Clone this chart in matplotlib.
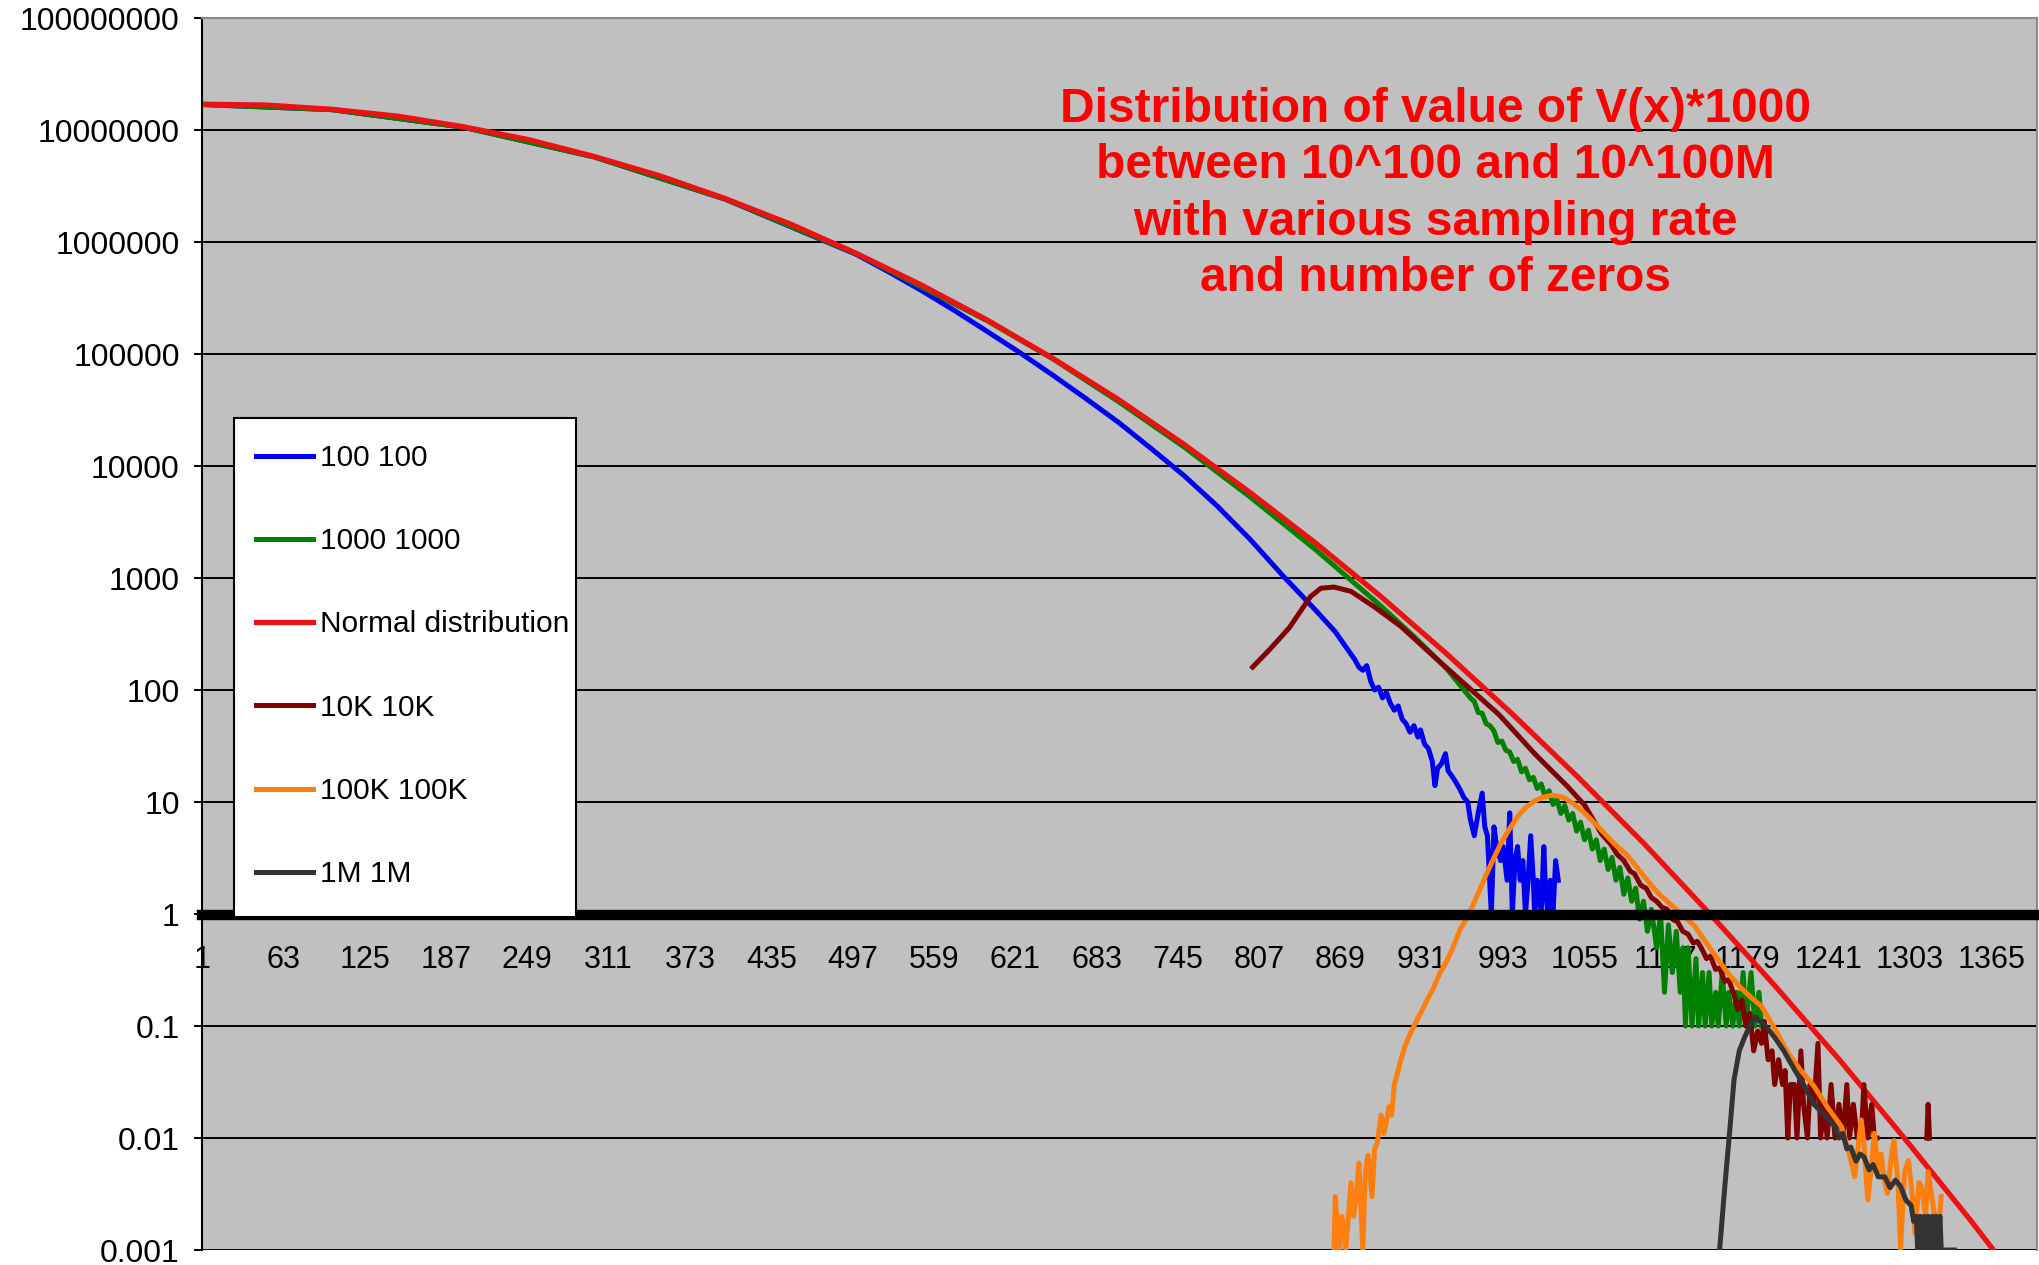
import numpy as np
import matplotlib
matplotlib.use('Agg')
import matplotlib.pyplot as plt
from matplotlib.patches import Rectangle
from matplotlib.ticker import NullLocator

plt.rcParams['font.family'] = ['Liberation Sans', 'DejaVu Sans']

# --- данные (категория, значение) ---
n_cat = 1400
x_ticks = list(range(1, 1366, 62))
y_ticks = [1e-3, 1e-2, 1e-1, 1, 10, 100, 1e3, 1e4, 1e5, 1e6, 1e7, 1e8]
y_tick_labels = ['0.001', '0.01', '0.1', '1', '10', '100', '1000', '10000',
                 '100000', '1000000', '10000000', '100000000']

normal_x = [1, 50, 100, 150, 200, 250, 300, 350, 400, 450, 500, 550, 600, 650,
            700, 750, 800, 850, 900, 950, 1000, 1050, 1100, 1150, 1200, 1250,
            1300, 1350, 1380]
normal_y = [1.70e7, 1.67e7, 1.53e7, 1.33e7, 1.07e7, 8.2e6, 5.8e6, 3.9e6, 2.44e6,
            1.44e6, 7.9e5, 4.1e5, 2.0e5, 9.1e4, 3.9e4, 1.55e4, 5.8e3, 2.05e3,
            680, 210, 61, 16.7, 4.3, 1.02, 0.23, 0.049, 0.0096, 0.0018, 0.00063]

s100_x = [1, 100, 200, 300, 400, 500, 525, 550, 575, 600, 625, 650, 675, 700,
          725, 750, 775, 800, 825, 850, 865, 880, 883, 886, 889, 892, 895, 898,
          901, 904, 907, 910, 913, 916, 919, 922, 925, 928, 930, 933, 936, 939,
          941, 943, 946, 949, 951, 954, 957, 960, 963, 966, 968, 971, 974, 977,
          979, 981, 984, 986, 988, 991, 993, 996, 998, 1000, 1002, 1004, 1006,
          1008, 1010, 1012, 1014, 1016, 1017, 1019, 1022, 1024, 1025, 1027,
          1029, 1031, 1033, 1035]
s100_y = [1.69e7, 1.52e7, 1.06e7, 5.75e6, 2.41e6, 7.74e5, 5.37e5, 3.66e5,
          2.43e5, 1.58e5, 1.02e5, 6.43e4, 3.99e4, 2.44e4, 1.42e4, 8.15e3,
          4.39e3, 2.22e3, 1.05e3, 516, 331, 186, 160, 150, 165, 120, 100, 106,
          85, 95, 76, 66, 72, 55, 50, 42, 48, 38, 44, 33, 30, 23, 14, 20, 22,
          27, 19, 17, 15, 13, 11, 10, 7, 5, 8, 12, 6, 5, 1, 6, 4, 3, 4, 2, 8,
          1, 3, 4, 2, 3, 1, 2, 5, 2, 1, 2, 1, 4, 2, 1, 2, 1, 3, 2]

s1000_x = [1, 100, 200, 300, 400, 500, 600, 650, 700, 750, 800, 850, 877, 900,
           925, 950, 968, 971, 974, 977, 980, 983, 986, 989, 992, 995, 998,
           1001, 1004, 1007, 1010, 1013, 1016, 1019, 1022, 1025, 1028, 1031,
           1034, 1037, 1040, 1043, 1046, 1049, 1052, 1055, 1058, 1061, 1064,
           1067, 1070, 1073, 1076, 1079, 1082, 1085, 1088, 1091, 1094, 1097,
           1100, 1103, 1106, 1110, 1113, 1116, 1119, 1122, 1125, 1128, 1130,
           1132, 1134, 1137, 1140, 1142, 1145, 1147, 1150, 1152, 1155, 1157,
           1160, 1163, 1165, 1168, 1171, 1173, 1176, 1178, 1182, 1185, 1188,
           1190]
s1000_y = [1.69e7, 1.52e7, 1.06e7, 5.75e6, 2.42e6, 7.85e5, 1.97e5, 9.0e4,
           3.74e4, 1.47e4, 5.3e3, 1.79e3, 955, 560, 300, 155, 85, 79, 63, 62,
           50, 48, 43, 34, 35, 29, 28, 23, 24, 18.6, 20, 15.8, 16.6, 13.2, 14.5,
           11.2, 12.6, 9.5, 10.5, 7.9, 9.3, 6.9, 7.9, 5.5, 6.6, 4.6, 5.6, 3.8,
           4.6, 3.0, 3.8, 2.5, 3.2, 2.0, 2.6, 1.5, 2.1, 1.3, 1.7, 0.9, 1.3, 0.7,
           1.1, 0.5, 1.0, 0.2, 0.8, 0.3, 0.7, 0.2, 0.5, 0.1, 0.5, 0.1, 0.4, 0.1,
           0.3, 0.1, 0.3, 0.1, 0.2, 0.1, 0.3, 0.1, 0.2, 0.1, 0.2, 0.1, 0.3, 0.1,
           0.3, 0.1, 0.2, 0.1]

s10k_x = [802, 815, 830, 846, 854, 864, 877, 895, 915, 940, 966, 990, 1017,
          1030, 1042, 1055, 1068, 1075, 1080, 1085, 1090, 1093, 1098, 1102,
          1106, 1110, 1114, 1118, 1122, 1126, 1130, 1134, 1138, 1141, 1144,
          1148, 1151, 1155, 1158, 1162, 1165, 1169, 1172, 1175, 1178, 1181,
          1184, 1187, 1190, 1192, 1195, 1198, 1200, 1203, 1206, 1208, 1210,
          1212, 1215, 1217, 1220, 1222, 1225, 1227, 1230, 1233, 1235, 1238,
          1240, 1243, 1246, 1249, 1252, 1255, 1257, 1260, 1263, 1266, 1268,
          1271, 1274, 1276, 1278, 1279, 1316, 1317, 1318]
s10k_y = [160, 230, 360, 680, 810, 830, 760, 550, 370, 200, 107, 60, 27, 19,
          13.8, 9.4, 5.2, 4.2, 3.4, 3.0, 2.4, 2.3, 1.8, 1.7, 1.4, 1.3, 1.15,
          1.1, 0.9, 0.85, 0.7, 0.66, 0.55, 0.57, 0.5, 0.4, 0.42, 0.32, 0.33,
          0.25, 0.26, 0.19, 0.14, 0.17, 0.10, 0.13, 0.06, 0.09, 0.07, 0.11,
          0.05, 0.06, 0.03, 0.05, 0.03, 0.04, 0.01, 0.03, 0.03, 0.01, 0.06,
          0.02, 0.01, 0.03, 0.02, 0.07, 0.01, 0.02, 0.01, 0.03, 0.01, 0.02,
          0.01, 0.03, 0.01, 0.02, 0.01, 0.01, 0.03, 0.01, 0.02, 0.01, 0.01,
          np.nan, 0.01, 0.02, 0.01]

s100k_x = [864, 865, 868, 870, 873, 875, 877, 879, 881, 883, 886, 888, 890,
           893, 895, 897, 900, 902, 904, 906, 908, 910, 913, 915, 918, 920, 925,
           930, 935, 940, 945, 950, 955, 960, 966, 972, 979, 985, 991, 998,
           1004, 1010, 1017, 1023, 1030, 1035, 1040, 1047, 1055, 1062, 1068,
           1074, 1080, 1087, 1093, 1100, 1106, 1112, 1118, 1125, 1131, 1139,
           1148, 1157, 1165, 1174, 1182, 1190, 1200, 1210, 1220, 1230, 1240,
           1251, 1256, 1261, 1266, 1268, 1271, 1274, 1276, 1279, 1281, 1284,
           1286, 1289, 1291, 1294, 1296, 1299, 1302, 1305, 1307, 1310, 1312,
           1315, 1317, 1319, 1322, 1324, 1327]
s100k_y = [0.001, 0.003, 0.001, 0.002, 0.001, 0.002, 0.004, 0.002, 0.003,
           0.006, 0.001, 0.005, 0.007, 0.003, 0.008, 0.009, 0.016, 0.011, 0.014,
           0.019, 0.016, 0.03, 0.04, 0.05, 0.065, 0.075, 0.10, 0.13, 0.17,
           0.22, 0.30, 0.38, 0.51, 0.72, 0.95, 1.35, 2.1, 3.0, 4.2, 5.8, 7.4,
           8.9, 10.2, 11.0, 11.5, 11.3, 10.8, 9.6, 8.0, 6.6, 5.6, 4.7, 4.0, 3.4,
           2.8, 2.2, 1.8, 1.5, 1.3, 1.1, 0.95, 0.78, 0.55, 0.39, 0.29, 0.22,
           0.18, 0.15, 0.095, 0.058, 0.04, 0.029, 0.019, 0.0126, 0.008, 0.0045,
           0.0145, 0.009, 0.0028, 0.006, 0.011, 0.005, 0.0072, 0.004, 0.0032,
           0.007, 0.0095, 0.004, 0.001, 0.005, 0.0063, 0.003, 0.0014, 0.004,
           0.0037, 0.002, 0.005, 0.0035, 0.002, 0.0011, 0.003]

s1m_x = [1158, 1162, 1166, 1169, 1173, 1177, 1181, 1185, 1189, 1193, 1200,
         1207, 1215, 1222, 1230, 1238, 1246, 1249, 1252, 1255, 1258, 1262,
         1265, 1268, 1272, 1275, 1279, 1284, 1288, 1292, 1296, 1300, 1304,
         1306, 1308, 1309, 1311, 1312, 1314, 1315, 1317, 1318, 1320, 1321,
         1323, 1324, 1326, 1327, 1337]
s1m_y = [0.001, 0.0037, 0.0126, 0.033, 0.06, 0.079, 0.1, 0.12, 0.11, 0.1,
         0.079, 0.06, 0.041, 0.03, 0.02, 0.016, 0.0126, 0.010, 0.011, 0.008,
         0.0083, 0.0062, 0.0072, 0.0068, 0.0052, 0.0058, 0.0045, 0.0045,
         0.0036, 0.0042, 0.0037, 0.0028, 0.0025, 0.0018, 0.002, 0.001, 0.002,
         0.001, 0.002, 0.001, 0.002, 0.001, 0.002, 0.001, 0.002, 0.001, 0.002,
         0.001, 0.001]

series = [
    ('100 100', s100_x, s100_y, '#0000f0', 3.6),
    ('1000 1000', s1000_x, s1000_y, '#008000', 3.6),
    ('Normal distribution', normal_x, normal_y, '#ee1111', 3.8),
    ('10K 10K', s10k_x, s10k_y, '#800000', 3.6),
    ('100K 100K', s100k_x, s100k_y, '#ff7f0e', 3.6),
    ('1M 1M', s1m_x, s1m_y, '#333333', 3.6),
]

title = ('Distribution of value of V(x)*1000\n'
         'between 10^100 and 10^100M\n'
         'with various sampling rate\n'
         'and number of zeros')

# --- построение ---
fig = plt.figure(figsize=(20.4, 12.65), dpi=100)
ax = fig.add_axes([202 / 2040, 1 - 1250 / 1265, 1835 / 2040, 1232 / 1265])
ax.set_facecolor('#c0c0c0')
ax.set_yscale('log')
ax.set_ylim(1e-3, 1e8)
ax.set_xlim(1, n_cat)

handles = []
for i, (name, xs, ys, col, lw) in enumerate(series):
    h, = ax.plot(xs, ys, color=col, lw=lw, label=name, zorder=2 + i * 0.01)
    handles.append(h)

# сетка и оси
ax.set_yticks(y_ticks, y_tick_labels)
ax.yaxis.set_minor_locator(NullLocator())
ax.yaxis.grid(True, color='black', lw=1.4)
ax.set_axisbelow(True)
ax.tick_params(axis='y', direction='out', length=6, width=1.4, pad=10,
               labelsize=23, colors='black')

ax.set_xticks(x_ticks, [str(v) for v in x_ticks])
ax.tick_params(axis='x', length=0, pad=21, labelsize=22)

ax.spines['bottom'].set_position(('data', 0.97))
ax.spines['bottom'].set_linewidth(7.5)
ax.spines['bottom'].set_color('black')
ax.spines['left'].set_linewidth(1.5)
ax.spines['left'].set_color('black')
for s in ['top', 'right']:
    ax.spines[s].set_color('#8a8a8a')
    ax.spines[s].set_linewidth(1.5)

# рамка легенды рисуется отдельно
box = Rectangle((234 / 2040, 1 - 917 / 1265), 342 / 2040, 499 / 1265,
                transform=fig.transFigure, facecolor='white',
                edgecolor='black', lw=1.5, zorder=9)
ax.add_patch(box)
box.set_clip_on(False)

leg = ax.legend(handles=handles, loc='upper left',
                bbox_to_anchor=(256 / 2040, 1 - 444 / 1265),
                bbox_transform=fig.transFigure, fontsize=21.5,
                frameon=False, handlelength=1.9, handletextpad=0.25,
                labelspacing=1.85, borderpad=0, borderaxespad=0)
leg.set_zorder(10)

fig.text(1435 / 2040, 1 - 194 / 1265, title, ha='center', va='center',
         color='#ff0000', fontsize=34.5, fontweight='bold', linespacing=1.33)

fig.savefig('out.png', dpi=100, facecolor='white')
